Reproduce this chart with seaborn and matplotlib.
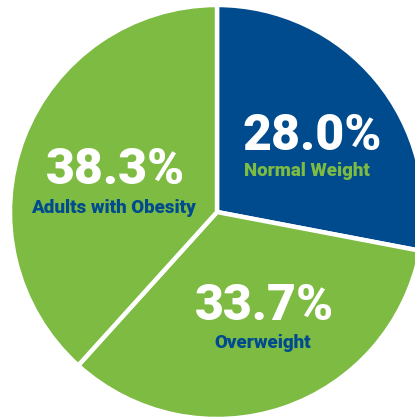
import matplotlib
matplotlib.use("Agg")
import matplotlib.pyplot as plt
import seaborn as sns

categories = ["Normal Weight", "Overweight", "Adults with Obesity"]
values = [28.0, 33.7, 38.3]
value_labels = ["28.0%", "33.7%", "38.3%"]

sns.set_theme(style="white")
plt.rcParams['font.family'] = ['Roboto', 'DejaVu Sans']

NAVY = "#004B8D"
GREEN = "#7DBB42"
slice_colors = [NAVY, GREEN, GREEN]
label_colors = [GREEN, NAVY, NAVY]

W, H = 415, 417
fig = plt.figure(figsize=(W / 100, H / 100), dpi=100)
ax = fig.add_axes([0, 0, 1, 1])
cx, cy, r = 217, 212, 207

ax.pie(values, colors=slice_colors, startangle=90, counterclock=False,
       radius=1, wedgeprops=dict(edgecolor="white", linewidth=3.2))
ax.set_aspect("auto")
ax.set_xlim(-cx / r, (W - cx) / r)
ax.set_ylim(-(H - cy) / r, cy / r)
ax.axis("off")

# label positions in pixels (x, y_from_top) for value and name
pos = {
    "Normal Weight": ((312, 137), (307, 171)),
    "Overweight": ((264, 307), (263, 343)),
    "Adults with Obesity": ((115, 170), (113, 208)),
}
for cat, val, lc in zip(categories, value_labels, label_colors):
    (vx, vy), (nx, ny) = pos[cat]
    fig.text(vx / W, 1 - vy / H, val, ha="center", va="center",
             color="white", fontsize=36, fontweight="black")
    fig.text(nx / W, 1 - ny / H, cat, ha="center", va="center",
             color=lc, fontsize=13.5, fontweight="black")

fig.savefig("out.png", dpi=100, facecolor="white")
